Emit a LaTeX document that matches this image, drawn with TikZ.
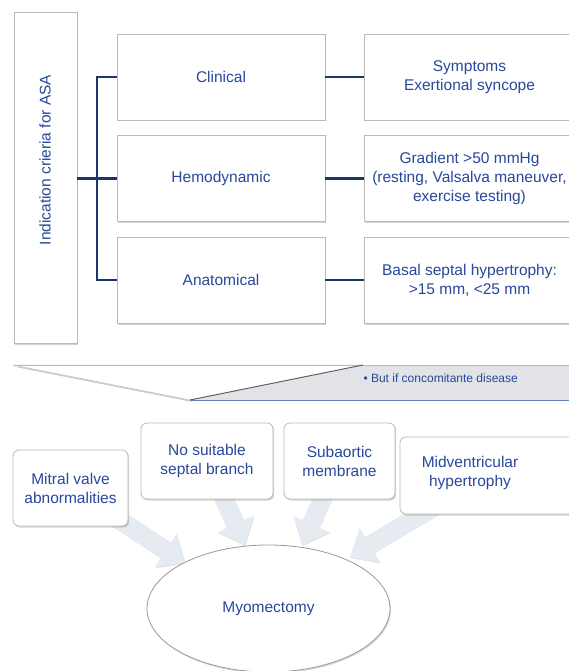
\documentclass[tikz,border=0pt]{standalone}
\usepackage{fontspec}
\setmainfont{Liberation Sans}
\usetikzlibrary{shapes.geometric,shadows,arrows.meta,backgrounds}
\definecolor{txtblue}{RGB}{40,72,155}
\definecolor{navy}{RGB}{25,55,105}
\definecolor{boxgray}{RGB}{190,185,178}
\definecolor{bandgray}{RGB}{225,227,231}
\definecolor{arrowfill}{RGB}{230,234,241}

\begin{document}
\begin{tikzpicture}[x=1pt,y=-1pt,
  box/.style={draw=boxgray, fill=white, line width=0.8pt,
    drop shadow={shadow xshift=1.2pt, shadow yshift=-1.5pt, opacity=0.35}},
  softbox/.style={box, rounded corners=6pt},
  lbl/.style={text=txtblue, align=center, font=\fontsize{15.5}{19}\selectfont},
  conn/.style={draw=navy, line width=2.2pt},
  fatarrow/.style={arrowfill, line width=19pt, -{Triangle[width=38pt,length=23pt]},
    preaction={draw=gray!22, transform canvas={xshift=0.8pt,yshift=-1.2pt}}}]
%\draw[help lines, color=gray!30, dashed] (0,0) grid[step=50] (569,671);
\useasboundingbox (0,0) rectangle (569,671);

% top part
\node[box, minimum width=63, minimum height=331] (indbox) at (45.5,177.5) {};
\node[lbl, rotate=90] (indtxt) at (45,160) {Indication crieria for ASA};

\node[box, lbl, minimum width=208, minimum height=86] (clin) at (221,77) {Clinical};
\node[box, lbl, minimum width=208, minimum height=86] (hemo) at (221,178.5) {Hemodynamic};
\node[box, lbl, minimum width=208, minimum height=86] (anat) at (221,280) {Anatomical};

\node[box, lbl, minimum width=211, minimum height=86] (symp) at (469.5,77) {Symptoms\\Exertional syncope};
\node[box, lbl, minimum width=211, minimum height=86] (grad) at (469.5,178.5) {Gradient >50 mmHg\\(resting, Valsalva maneuver,\\exercise testing)};
\node[box, lbl, minimum width=211, minimum height=86] (basal) at (469.5,280) {Basal septal hypertrophy:\\>15 mm, <25 mm};

\coordinate (fork) at (97,178.5);
\draw[conn] (indbox.east |- fork) -- (fork) -- (hemo.west);
\draw[conn] (clin.west) -| (fork) |- (anat.west);
\draw[conn] (clin) -- (symp);
\draw[conn] (hemo) -- (grad);
\draw[conn] (anat) -- (basal);

% callout band
\draw[boxgray, fill=white, drop shadow={shadow xshift=0pt, shadow yshift=-1.5pt, opacity=0.4}]
  (13,365) -- (363,365) -- (190,400) -- cycle;
\fill[bandgray] (363,365) -- (575,365) -- (575,400) -- (190,400) -- cycle;
\draw[boxgray] (13,365) -- (575,365);
\draw[gray!70!black, line width=0.9pt] (363,365) -- (190,400);
\draw[txtblue!70, line width=0.9pt] (190,400) -- (575,400);
\node[text=txtblue, font=\fontsize{12}{14}\selectfont, anchor=west] (butif) at (360,378) {\textbullet\ But if concomitante disease};

% bottom part
\node[softbox, lbl, minimum width=115, minimum height=76] (mitral) at (70.5,488) {Mitral valve\\abnormalities};
\node[softbox, lbl, minimum width=132, minimum height=76] (nosuit) at (207,461) {No suitable\\septal branch};
\node[softbox, lbl, minimum width=111, minimum height=76] (subaor) at (339.5,461) {Subaortic\\membrane};
\node[softbox, minimum width=175, minimum height=77] (midv) at (487.5,475.5) {};
\node[lbl] (midvtxt) at (470,473) {Midventricular\\hypertrophy};

\node[ellipse, draw=gray!80, fill=white, line width=0.8pt, lbl,
  minimum width=243, minimum height=127,
  drop shadow={shadow xshift=1pt, shadow yshift=-1.5pt, opacity=0.3}] (myo) at (268.5,608.5) {Myomectomy};

\coordinate (tipA) at (185,563);
\coordinate (tipB) at (245,545);
\coordinate (tipC) at (302,545);
\coordinate (tipD) at (350,557);

\begin{scope}[on background layer]
\draw[fatarrow] (mitral.center) -- (tipA);
\draw[fatarrow] (nosuit.center) -- (tipB);
\draw[fatarrow] (subaor.center) -- (tipC);
\draw[fatarrow] (midv.center) -- (tipD);
\end{scope}
\end{tikzpicture}
\end{document}
